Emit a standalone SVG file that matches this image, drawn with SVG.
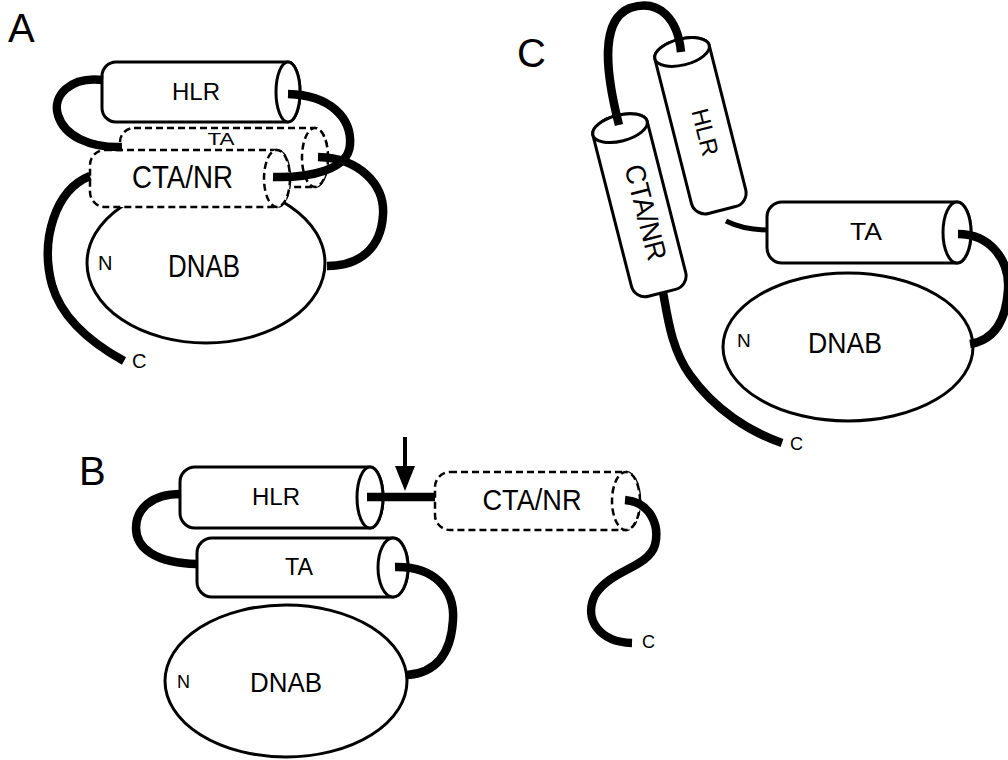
<svg xmlns="http://www.w3.org/2000/svg" width="1008" height="760" viewBox="0 0 1008 760">
  <style>
    .solid { fill: #fff; stroke: #000; stroke-width: 3; }
    .dashed { fill: #fff; stroke: #000; stroke-width: 2.5; stroke-dasharray: 7 4; }
    .link { fill: none; stroke: #000; stroke-width: 8.5; stroke-linecap: butt; }
    .thin { fill: none; stroke: #000; stroke-width: 5; stroke-linecap: butt; }
    text { font-family: "Liberation Sans", Arial, Helvetica, sans-serif; fill: #000; }
    .panel { font-size: 40px; }
    .lbl { text-anchor: middle; }
  </style>
  <defs>
    <marker id="arrowhead" viewBox="0 0 25 20" markerWidth="25" markerHeight="20" refX="0" refY="10" orient="auto" markerUnits="userSpaceOnUse">
      <path d="M0,0 L25,10 L0,20 Z" fill="#000"/>
    </marker>
  </defs>

  <rect width="1008" height="760" fill="#fff"/>

  <!-- panel letters -->
  <text class="panel" x="8" y="42" font-size="42">A</text>
  <text class="panel" x="517" y="67">C</text>
  <text class="panel" x="79" y="485">B</text>

  <!-- ===== Panel A ===== -->
  <g id="a-dnab">
    <ellipse class="solid" cx="206" cy="263" rx="119" ry="80"/>
    <text class="lbl" x="204" y="277" font-size="32" textLength="72" lengthAdjust="spacingAndGlyphs">DNAB</text>
    <text x="98" y="270" font-size="20">N</text>
  </g>
  <g id="a-ta">
    <path class="dashed" d="M134,128 H315 A13,29.5 0 0 1 315,187 H134 A14,14 0 0 1 120,173 V142 A14,14 0 0 1 134,128 Z"/>
    <ellipse class="dashed" cx="315" cy="157.5" rx="13" ry="29.5"/>
    <text class="lbl" x="221" y="145" font-size="16" textLength="27" lengthAdjust="spacingAndGlyphs">TA</text>
  </g>
  <g id="a-ctanr">
    <path class="dashed" d="M105,150 H277 A13,28.5 0 0 1 277,207 H105 A15,15 0 0 1 90,192 V165 A15,15 0 0 1 105,150 Z"/>
    <ellipse class="dashed" cx="277" cy="178.5" rx="13" ry="28.5"/>
    <text class="lbl" x="182.5" y="188" font-size="31" textLength="101" lengthAdjust="spacingAndGlyphs">CTA/NR</text>
  </g>
  <g id="a-hlr">
    <path class="solid" d="M116,62 H288 A12,30 0 0 1 288,122 H116 A14,14 0 0 1 102,108 V76 A14,14 0 0 1 116,62 Z"/>
    <ellipse class="solid" cx="288" cy="92" rx="12" ry="30"/>
    <text class="lbl" x="196" y="100" font-size="24" textLength="48" lengthAdjust="spacingAndGlyphs">HLR</text>
  </g>
  <g id="a-cterm">
    <text x="132" y="368" font-size="20">C</text>
  </g>

  <!-- ===== Panel C ===== -->
  <g id="c-dnab">
    <ellipse class="solid" cx="848" cy="347" rx="125" ry="74"/>
    <text class="lbl" x="845" y="353" font-size="29" textLength="74" lengthAdjust="spacingAndGlyphs">DNAB</text>
    <text x="737" y="347" font-size="19">N</text>
  </g>
  <g id="c-ta">
    <path class="solid" d="M782,202 H957 A14,30.5 0 0 1 957,263 H782 A15,15 0 0 1 767,248 V217 A15,15 0 0 1 782,202 Z"/>
    <ellipse class="solid" cx="957" cy="232.5" rx="14" ry="30.5"/>
    <text class="lbl" x="866" y="240" font-size="23" textLength="32" lengthAdjust="spacingAndGlyphs">TA</text>
  </g>
  <g id="c-hlr" transform="translate(702,131) rotate(75.8)">
    <path class="solid" d="M-81.5,-28 H67.5 A14,14 0 0 1 81.5,-14 V14 A14,14 0 0 1 67.5,28 H-81.5 A13,28 0 0 1 -81.5,-28 Z"/>
    <ellipse class="solid" cx="-81.5" cy="0" rx="13" ry="28"/>
    <text class="lbl" x="2" y="-3" font-size="24" dominant-baseline="central" textLength="48" lengthAdjust="spacingAndGlyphs">HLR</text>
  </g>
  <g id="c-ctanr" transform="translate(641,210.5) rotate(75.7)">
    <path class="solid" d="M-85,-28 H71 A14,14 0 0 1 85,-14 V14 A14,14 0 0 1 71,28 H-85 A13,28 0 0 1 -85,-28 Z"/>
    <ellipse class="solid" cx="-85" cy="0" rx="13" ry="28"/>
    <text class="lbl" x="3" y="-4" font-size="28" dominant-baseline="central" textLength="98" lengthAdjust="spacingAndGlyphs">CTA/NR</text>
  </g>
  <g id="c-cterm">
    <text x="790" y="450" font-size="18">C</text>
  </g>

  <!-- ===== Panel B ===== -->
  <g id="b-dnab">
    <ellipse class="solid" cx="286" cy="681" rx="121" ry="76"/>
    <text class="lbl" x="286" y="692" font-size="28" textLength="72" lengthAdjust="spacingAndGlyphs">DNAB</text>
    <text x="177" y="688" font-size="18">N</text>
  </g>
  <g id="b-hlr">
    <path class="solid" d="M195,467 H370 A13,30.5 0 0 1 370,528 H195 A15,15 0 0 1 180,513 V482 A15,15 0 0 1 195,467 Z"/>
    <ellipse class="solid" cx="370" cy="497.5" rx="13" ry="30.5"/>
    <text class="lbl" x="276" y="505" font-size="23" textLength="48" lengthAdjust="spacingAndGlyphs">HLR</text>
  </g>
  <g id="b-ta">
    <path class="solid" d="M212,538 H393 A15,29.5 0 0 1 393,597 H212 A15,15 0 0 1 197,582 V553 A15,15 0 0 1 212,538 Z"/>
    <ellipse class="solid" cx="393" cy="567.5" rx="15" ry="29.5"/>
    <text class="lbl" x="299" y="575" font-size="23" textLength="28" lengthAdjust="spacingAndGlyphs">TA</text>
  </g>
  <g id="b-ctanr">
    <path class="dashed" d="M450,472 H626 A14,29 0 0 1 626,530 H450 A15,15 0 0 1 435,515 V487 A15,15 0 0 1 450,472 Z"/>
    <ellipse class="dashed" cx="626" cy="501" rx="14" ry="29"/>
    <text class="lbl" x="532" y="510" font-size="30" textLength="99" lengthAdjust="spacingAndGlyphs">CTA/NR</text>
  </g>
  <g id="b-cterm">
    <text x="642" y="648" font-size="18">C</text>
  </g>
  <g id="b-cleavage">
    <line x1="405" y1="437" x2="405" y2="466" stroke="#000" stroke-width="4" marker-end="url(#arrowhead)"/>
  </g>

  <!-- ===== chain segments ===== -->
  <g id="connectors">
    <!-- A -->
    <path class="link" d="M318,157 C360,158 385,185 383,215 C381,248 360,266 327,266"/>
    <path class="link" d="M288,94 C330,95 352,118 350,145 C348,170 310,178 273,177"/>
    <path class="link" d="M103,80 C70,76 52,96 58,115 C64,136 90,148 122,147"/>
    <path class="link" d="M90,176 C55,190 40,240 52,285 C62,320 95,345 124,361"/>
    <!-- C -->
    <path class="link" d="M619,125 C605,70 600,20 630,8 C660,-2 678,20 681,52"/>
    <path class="thin" d="M726,221 C740,228 752,230 768,230"/>
    <path class="link" d="M958,234 C990,234 1010,260 1008,290 C1006,320 995,340 970,344"/>
    <path class="link" d="M663,292 C668,320 672,350 690,375 C715,410 750,432 782,443"/>
    <!-- B -->
    <path class="link" d="M181,494 C150,494 136,510 136,528 C136,548 155,563 197,564"/>
    <path class="link" d="M367,497 H435" stroke-width="6"/>
    <path class="link" d="M395,567 C435,566 455,590 453,620 C451,655 435,673 407,675"/>
    <path class="link" d="M625,500 C650,502 660,525 655,545 C648,568 610,570 595,595 C583,620 600,642 632,643"/>
  </g>
</svg>
